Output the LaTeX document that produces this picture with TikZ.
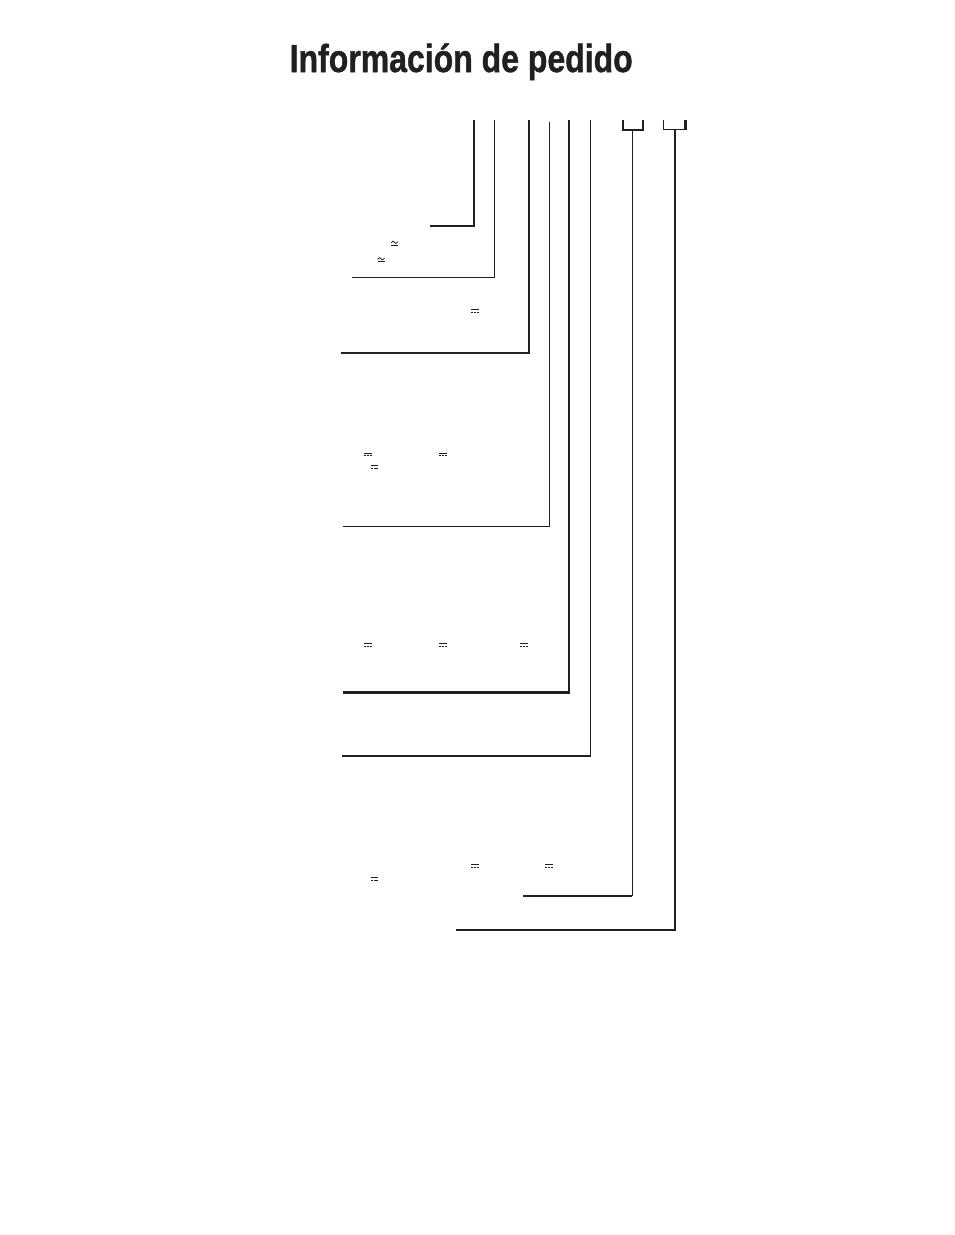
\documentclass[tikz,border=0pt]{standalone}
\usepackage{fontspec}
\setmainfont{Liberation Sans}
\newfontfamily\titlefont[FakeBold=1.3]{Liberation Sans Bold}
\usepackage{graphicx}
\definecolor{ink}{HTML}{231F20}
\begin{document}
\begin{tikzpicture}[x=1pt,y=-1pt,
  thickln/.style={draw=ink,line width=2.3pt},
  thinln/.style={draw=ink,line width=1.3pt},
  legln/.style={draw=ink,line width=2pt},
  dcsym/.style={draw=ink,line width=0.9pt},
  acsym/.style={draw=ink,line width=0.8pt}]
\useasboundingbox (0,0) rectangle (954,1235);
\node[anchor=base west,inner sep=0pt,text=ink] (title) at (289.5,72)
  {\resizebox{343pt}{\height}{\fontsize{39}{39}\titlefont\selectfont Información de pedido}};
% column tops
\coordinate (t1) at (474,120);
\coordinate (t2) at (494.3,120);
\coordinate (t3) at (529,120);
\coordinate (t4) at (549.3,121.5);
\coordinate (t5) at (568.7,120);
\coordinate (t6) at (590.5,120);
% corners
\coordinate (c1) at (474,226);   \coordinate (e1) at (430,226);
\coordinate (c2) at (494.3,277.7); \coordinate (e2) at (352,277.7);
\coordinate (c3) at (529,353.3); \coordinate (e3) at (341,353.3);
\coordinate (c4) at (549.3,526.5); \coordinate (e4) at (343,526.5);
\coordinate (c5) at (568.7,692.5); \coordinate (e5) at (343,692.5);
\coordinate (c6) at (590.5,756.3); \coordinate (e6) at (342,756.3);
\draw[thickln] (t1) -- (c1) -- (e1);
\draw[thinln] (t2) -- (c2) -- (e2);
\draw[thickln] (t3) -- (c3) -- (e3);
\draw[thinln] (t4) -- (c4) -- (e4);
\draw[thickln] (t5) -- (c5) -- (e5);
\draw[thinln] (t6) -- (c6);
\draw[legln] (c6) -- (e6);
% brackets
\coordinate (b1l) at (623,120); \coordinate (b1r) at (643,120);
\coordinate (b1m) at (632.3,130);
\coordinate (c7) at (632.3,895.7); \coordinate (e7) at (523,895.7);
\draw[thickln] (b1l) |- (b1m) -| (b1r);
\draw[thinln] (b1m) -- (c7);
\draw[legln] (c7) -- (e7);
\coordinate (b2l) at (663.5,120); \coordinate (b2r) at (685.5,120);
\coordinate (b2m) at (675,129.5);
\coordinate (c8) at (675,930); \coordinate (e8) at (456,930);
\draw[thinln] (b2l) |- (b2m) -| (b2r);
\draw[thickln] (b2r) -- ++(0,9.5);
\draw[thickln] (b2m) -- (c8) -- (e8);
% DC symbols
\foreach \px/\py in {475/311, 368/454.5, 443/454.5, 374.5/467, 368/644.7, 443/644.7, 524/644.7, 474.7/866, 549/866, 374.5/879}{
  \draw[dcsym] (\px-3.8,\py-1.3) -- (\px+3.8,\py-1.3);
  \draw[dcsym,dash pattern=on 2pt off 0.8pt] (\px-3.8,\py+1.4) -- (\px+3.8,\py+1.4);
}
% AC/DC symbols
\foreach \px/\py in {394.5/243.5, 381/260}{
  \draw[acsym] (\px-3.5,\py-0.6) .. controls (\px-2,\py-2.8) and (\px-0.5,\py-2.8) .. (\px,\py-1.2)
     .. controls (\px+0.5,\py+0.4) and (\px+2,\py+0.4) .. (\px+3.5,\py-1.8);
  \draw[acsym] (\px-3.5,\py+1.8) -- (\px+3.5,\py+1.8);
}
\end{tikzpicture}
\end{document}
